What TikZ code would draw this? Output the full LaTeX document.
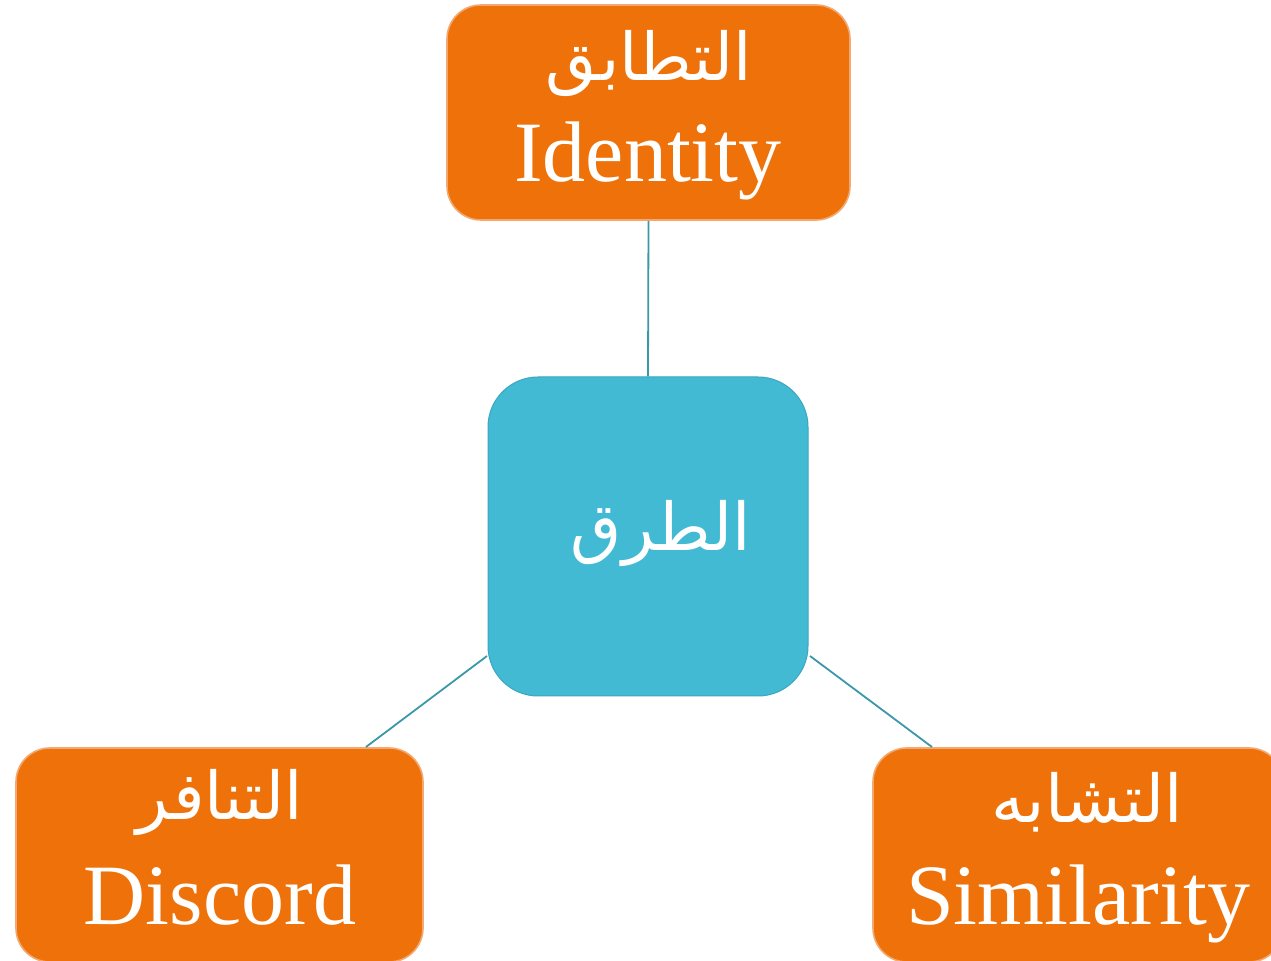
\documentclass[tikz,border=0pt]{standalone}
\usepackage{fontspec}
\setmainfont{Liberation Serif}
\newfontfamily\arabicfont[Script=Arabic]{DejaVu Sans}
\TeXXeTstate=1
\definecolor{boxorange}{HTML}{EE7209}
\definecolor{boxedge}{HTML}{F2A870}
\definecolor{centerblue}{HTML}{42BAD3}
\definecolor{linkteal}{HTML}{3A98A8}
\begin{document}
\begin{tikzpicture}[x=0.5pt,y=-0.5pt,
  obox/.style={draw=boxedge,line width=0.8pt,fill=boxorange,rounded corners=17pt,inner sep=0pt},
  cbox/.style={draw=centerblue!90!black,line width=0.5pt,fill=centerblue,rounded corners=25pt,inner sep=0pt},
  link/.style={draw=linkteal,line width=0.9pt},
  artxt/.style={text=white,inner sep=0pt,font=\arabicfont\fontsize{33}{37}\selectfont},
  entxt/.style={text=white,inner sep=0pt,anchor=base,font=\fontsize{43}{48}\selectfont}]
\useasboundingbox (0,0) rectangle (1271,961);
\fill[white] (0,0) rectangle (1271,961);
% boxes
\node[obox,minimum width=201.5pt,minimum height=107.5pt] (top) at (648.5,112.5) {};
\node[cbox,minimum width=160pt,minimum height=159.5pt] (center) at (648,536.5) {};
\node[obox,minimum width=203.5pt,minimum height=107pt] (left) at (219.5,855) {};
\node[obox,minimum width=205pt,minimum height=107pt] (right) at (1078,855) {};
% connectors
\coordinate (cl) at (487,656);
\coordinate (lt) at (366,747);
\coordinate (cr) at (810,656);
\coordinate (rt) at (932,747);
\draw[link] (top.south) -- (center.north);
\draw[link] (cl) -- (lt);
\draw[link] (cr) -- (rt);
% texts
\node[artxt] (topar) at (649,64) {\beginR التطابق\endR};
\node[entxt] (topen) at (648,182) {Identity};
\node[artxt] (cenar) at (661,533) {\beginR الطرق\endR};
\node[artxt] (leftar) at (220,802) {\beginR التنافر\endR};
\node[entxt] (leften) at (220,925) {Discord};
\node[artxt] (rightar) at (1087,802) {\beginR التشابه\endR};
\node[entxt] (righten) at (1078,925) {Similarity};
\end{tikzpicture}
\end{document}
